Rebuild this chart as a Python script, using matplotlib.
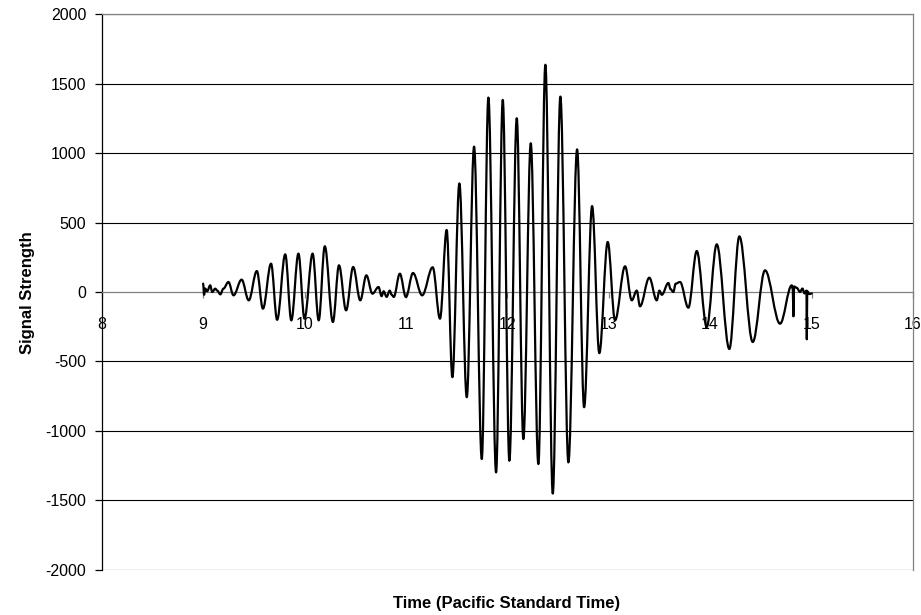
import matplotlib
matplotlib.use("Agg")
import matplotlib.pyplot as plt
from matplotlib.path import Path
from matplotlib.patches import PathPatch

## signal: turning points of the trace (hours, strength)
time_h = [9.00, 9.01, 9.02, 9.04, 9.07, 9.09, 9.12, 9.14, 9.17, 9.20, 9.25, 9.30,
          9.38, 9.45, 9.53, 9.59, 9.67, 9.73, 9.81, 9.87, 9.94, 10.00,
          10.08, 10.14, 10.20, 10.28, 10.34, 10.41, 10.48, 10.55, 10.61, 10.67,
          10.73, 10.76, 10.78, 10.81, 10.84, 10.86, 10.88, 10.94, 11.00, 11.07, 11.16,
          11.264, 11.336, 11.402, 11.458, 11.527, 11.600, 11.672, 11.748, 11.813,
          11.889, 11.955, 12.020, 12.093, 12.158, 12.231, 12.306, 12.375, 12.448,
          12.523, 12.602, 12.688, 12.757, 12.836, 12.907, 12.990, 13.062, 13.161,
          13.227, 13.276, 13.308, 13.400, 13.473, 13.50, 13.523, 13.588, 13.61,
          13.637, 13.66, 13.703, 13.785, 13.868, 13.966, 14.065, 14.189, 14.288,
          14.420, 14.541, 14.689, 14.805, 14.815, 14.821, 14.827, 14.854, 14.886,
          14.91, 14.93, 14.950, 14.953, 14.957, 14.98, 15.002]
strength = [60, -20, 25, 5, 48, 0, 24, 10, -17, 24, 72, -24,
            89, -60, 151, -120, 204, -200, 271, -204, 276, -192,
            276, -204, 329, -216, 192, -132, 180, -60, 120, -12,
            36, -30, 5, -35, 10, -20, -36, 132, -36, 137, -24,
            178, -192, 446, -613, 781, -757, 1046, -1202, 1399,
            -1298, 1382, -1214, 1250, -1058, 1070, -1238, 1635, -1450,
            1406, -1226, 1026, -829, 618, -440, 360, -204, 185,
            -60, 10, -103, 103, -60, 10, -20, 65, 20,
            0, 60, 72, -113, 295, -252, 343, -410, 400,
            -360, 156, -228, 48, 20, -175, 40, 30, 0,
            25, -10, 10, -340, 5, -15, -10]

y_ticks = [-2000, -1500, -1000, -500, 0, 500, 1000, 1500, 2000]
x_ticks = [8, 9, 10, 11, 12, 13, 14, 15, 16]

plt.rcParams['font.family'] = ['Liberation Sans', 'DejaVu Sans']

fig = plt.figure(figsize=(9.21, 6.15), dpi=100)
ax = fig.add_axes([0.1104, 0.0732, 0.8809, 0.904])

## horizontal grid lines
for v in y_ticks:
    if v != 0:
        ax.axhline(v, color="black", lw=0.8, zorder=1)

## smoothed line through the turning points (flat tangent at each one)
verts = [(time_h[0], strength[0])]
codes = [Path.MOVETO]
for i in range(1, len(time_h)):
    t0, v0 = time_h[i-1], strength[i-1]
    t1, v1 = time_h[i], strength[i]
    d = (t1 - t0) * 0.36
    verts += [(t0 + d, v0), (t1 - d, v1), (t1, v1)]
    codes += [Path.CURVE4] * 3
trace = PathPatch(Path(verts, codes), facecolor="none", edgecolor="black",
                  lw=1.6, zorder=3, capstyle="round", joinstyle="round")
ax.add_patch(trace)

ax.set_xlim(8, 16)
ax.set_ylim(-2000, 2000)
ax.set_xticks(x_ticks)
ax.set_xticklabels([str(t) for t in x_ticks])
ax.set_yticks(y_ticks)
ax.set_yticklabels([str(v) for v in y_ticks])

## excel style: x axis crosses at zero, grey box around the plot
ax.spines['bottom'].set_position(('data', 0))
ax.spines['bottom'].set_color("#808080")
ax.spines['top'].set_color("#808080")
ax.spines['right'].set_color("#808080")
ax.spines['left'].set_color("black")
for s in ax.spines.values():
    s.set_linewidth(0.9)

ax.tick_params(axis='y', direction='out', length=5, width=0.9, pad=6, labelsize=11.5)
ax.tick_params(axis='x', direction='out', length=4, width=0.9, pad=14,
               labelsize=11.5, color="#808080")

fig.text(0.5505, 0.019, "Time (Pacific Standard Time)", ha="center", va="center",
         fontsize=12, fontweight="bold")
fig.text(0.030, 0.525, "Signal Strength", ha="center", va="center",
         rotation=90, fontsize=12, fontweight="bold")

fig.savefig("out.png", dpi=100)
